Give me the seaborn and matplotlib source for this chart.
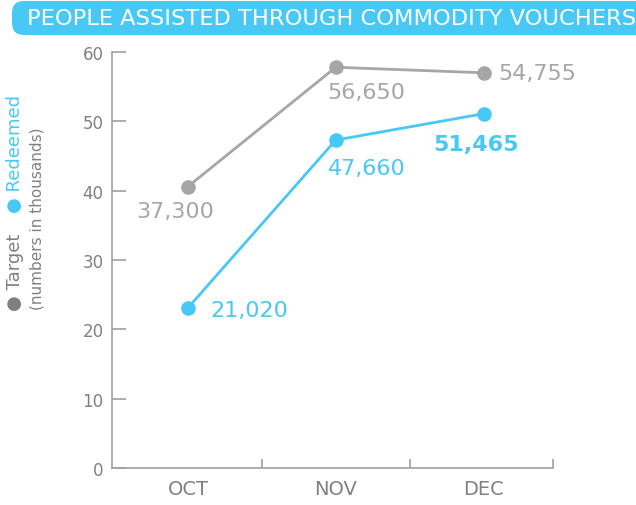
import numpy as np
import pandas as pd
import matplotlib
matplotlib.use("Agg")
import matplotlib.pyplot as plt
from matplotlib.patches import FancyBboxPatch
import seaborn as sns

# data (thousands, as plotted) and the printed labels
months = ["OCT", "NOV", "DEC"]
target = [40.6, 57.8, 57.0]
redeemed = [23.1, 47.3, 51.1]
target_labels = ["37,300", "56,650", "54,755"]
redeemed_labels = ["21,020", "47,660", "51,465"]

gray = "#a6a6a6"
blue = "#47c8f5"
tick_gray = "#808080"
axis_gray = "#a0a0a0"

sns.set_style("white")
plt.rcParams["font.family"] = ["DejaVu Sans"]

fig = plt.figure(figsize=(6.36, 5.06), dpi=100)
ax = fig.add_axes([112 / 636, 1 - 469 / 506, 441 / 636, 416 / 506])

df = pd.DataFrame({"month": months * 2,
                   "value": target + redeemed,
                   "series": ["Target"] * 3 + ["Redeemed"] * 3})
sns.lineplot(data=df, x="month", y="value", hue="series",
             palette={"Target": gray, "Redeemed": blue},
             marker="o", markersize=10.5, markeredgewidth=0,
             linewidth=2, legend=False, ax=ax)

# value labels
t_off = [(-13, -24, "center"), (31, -25, "center"), (15, 0, "left")]
r_off = [(22, -2, "left"), (31, -28, "center"), (-8, -30, "center")]
for i, (lab, (dx, dy, ha)) in enumerate(zip(target_labels, t_off)):
    ax.annotate(lab, (i, target[i]), xytext=(dx, dy), textcoords="offset pixels",
                ha=ha, va="center", fontsize=16, color=gray)
for i, (lab, (dx, dy, ha)) in enumerate(zip(redeemed_labels, r_off)):
    ax.annotate(lab, (i, redeemed[i]), xytext=(dx, dy), textcoords="offset pixels",
                ha=ha, va="center", fontsize=16, color=blue,
                fontweight="bold" if i == 2 else "normal")

# axes styling
ax.set_xlim(-0.514, 2.47)
ax.set_ylim(0, 60)
ax.set_yticks(range(0, 61, 10))
ax.set_xticks(range(len(months)))
ax.set_xticklabels(months)
ax.set_xticks([0.5, 1.5, 2.47], minor=True)
ax.set_xlabel("")
ax.set_ylabel("")
for s in ["top", "right"]:
    ax.spines[s].set_visible(False)
for s in ["left", "bottom"]:
    ax.spines[s].set_color(axis_gray)
    ax.spines[s].set_linewidth(1.2)
ax.tick_params(axis="y", direction="in", length=10, width=1.2, color=axis_gray,
               labelsize=12, labelcolor=tick_gray, pad=6, left=True)
ax.tick_params(axis="x", which="major", length=0, labelsize=14,
               labelcolor=tick_gray, pad=8)
ax.tick_params(axis="x", which="minor", direction="in", length=6.5, width=1.2,
               color=axis_gray, bottom=True)

# overlay in pixel coordinates for the banner and side legend
ov = fig.add_axes([0, 0, 1, 1], zorder=-1)
ov.set_xlim(0, 636)
ov.set_ylim(506, 0)
ov.axis("off")
ov.add_patch(FancyBboxPatch((12, 2), 660, 34, boxstyle="round,pad=0,rounding_size=12",
                            facecolor=blue, edgecolor="none"))
ov.text(27, 19, "PEOPLE ASSISTED THROUGH COMMODITY VOUCHERS", color="white",
        fontsize=16.2, ha="left", va="center")

ov.text(15, 272, "\u25cf Target", rotation=90, color=tick_gray, fontsize=13,
        ha="center", va="center")
ov.text(15, 154, "\u25cf Redeemed", rotation=90, color=blue, fontsize=13,
        ha="center", va="center")
ov.text(37, 219, "(numbers in thousands)", rotation=90, color=tick_gray, fontsize=11,
        ha="center", va="center")

fig.savefig("out.png", dpi=100)
